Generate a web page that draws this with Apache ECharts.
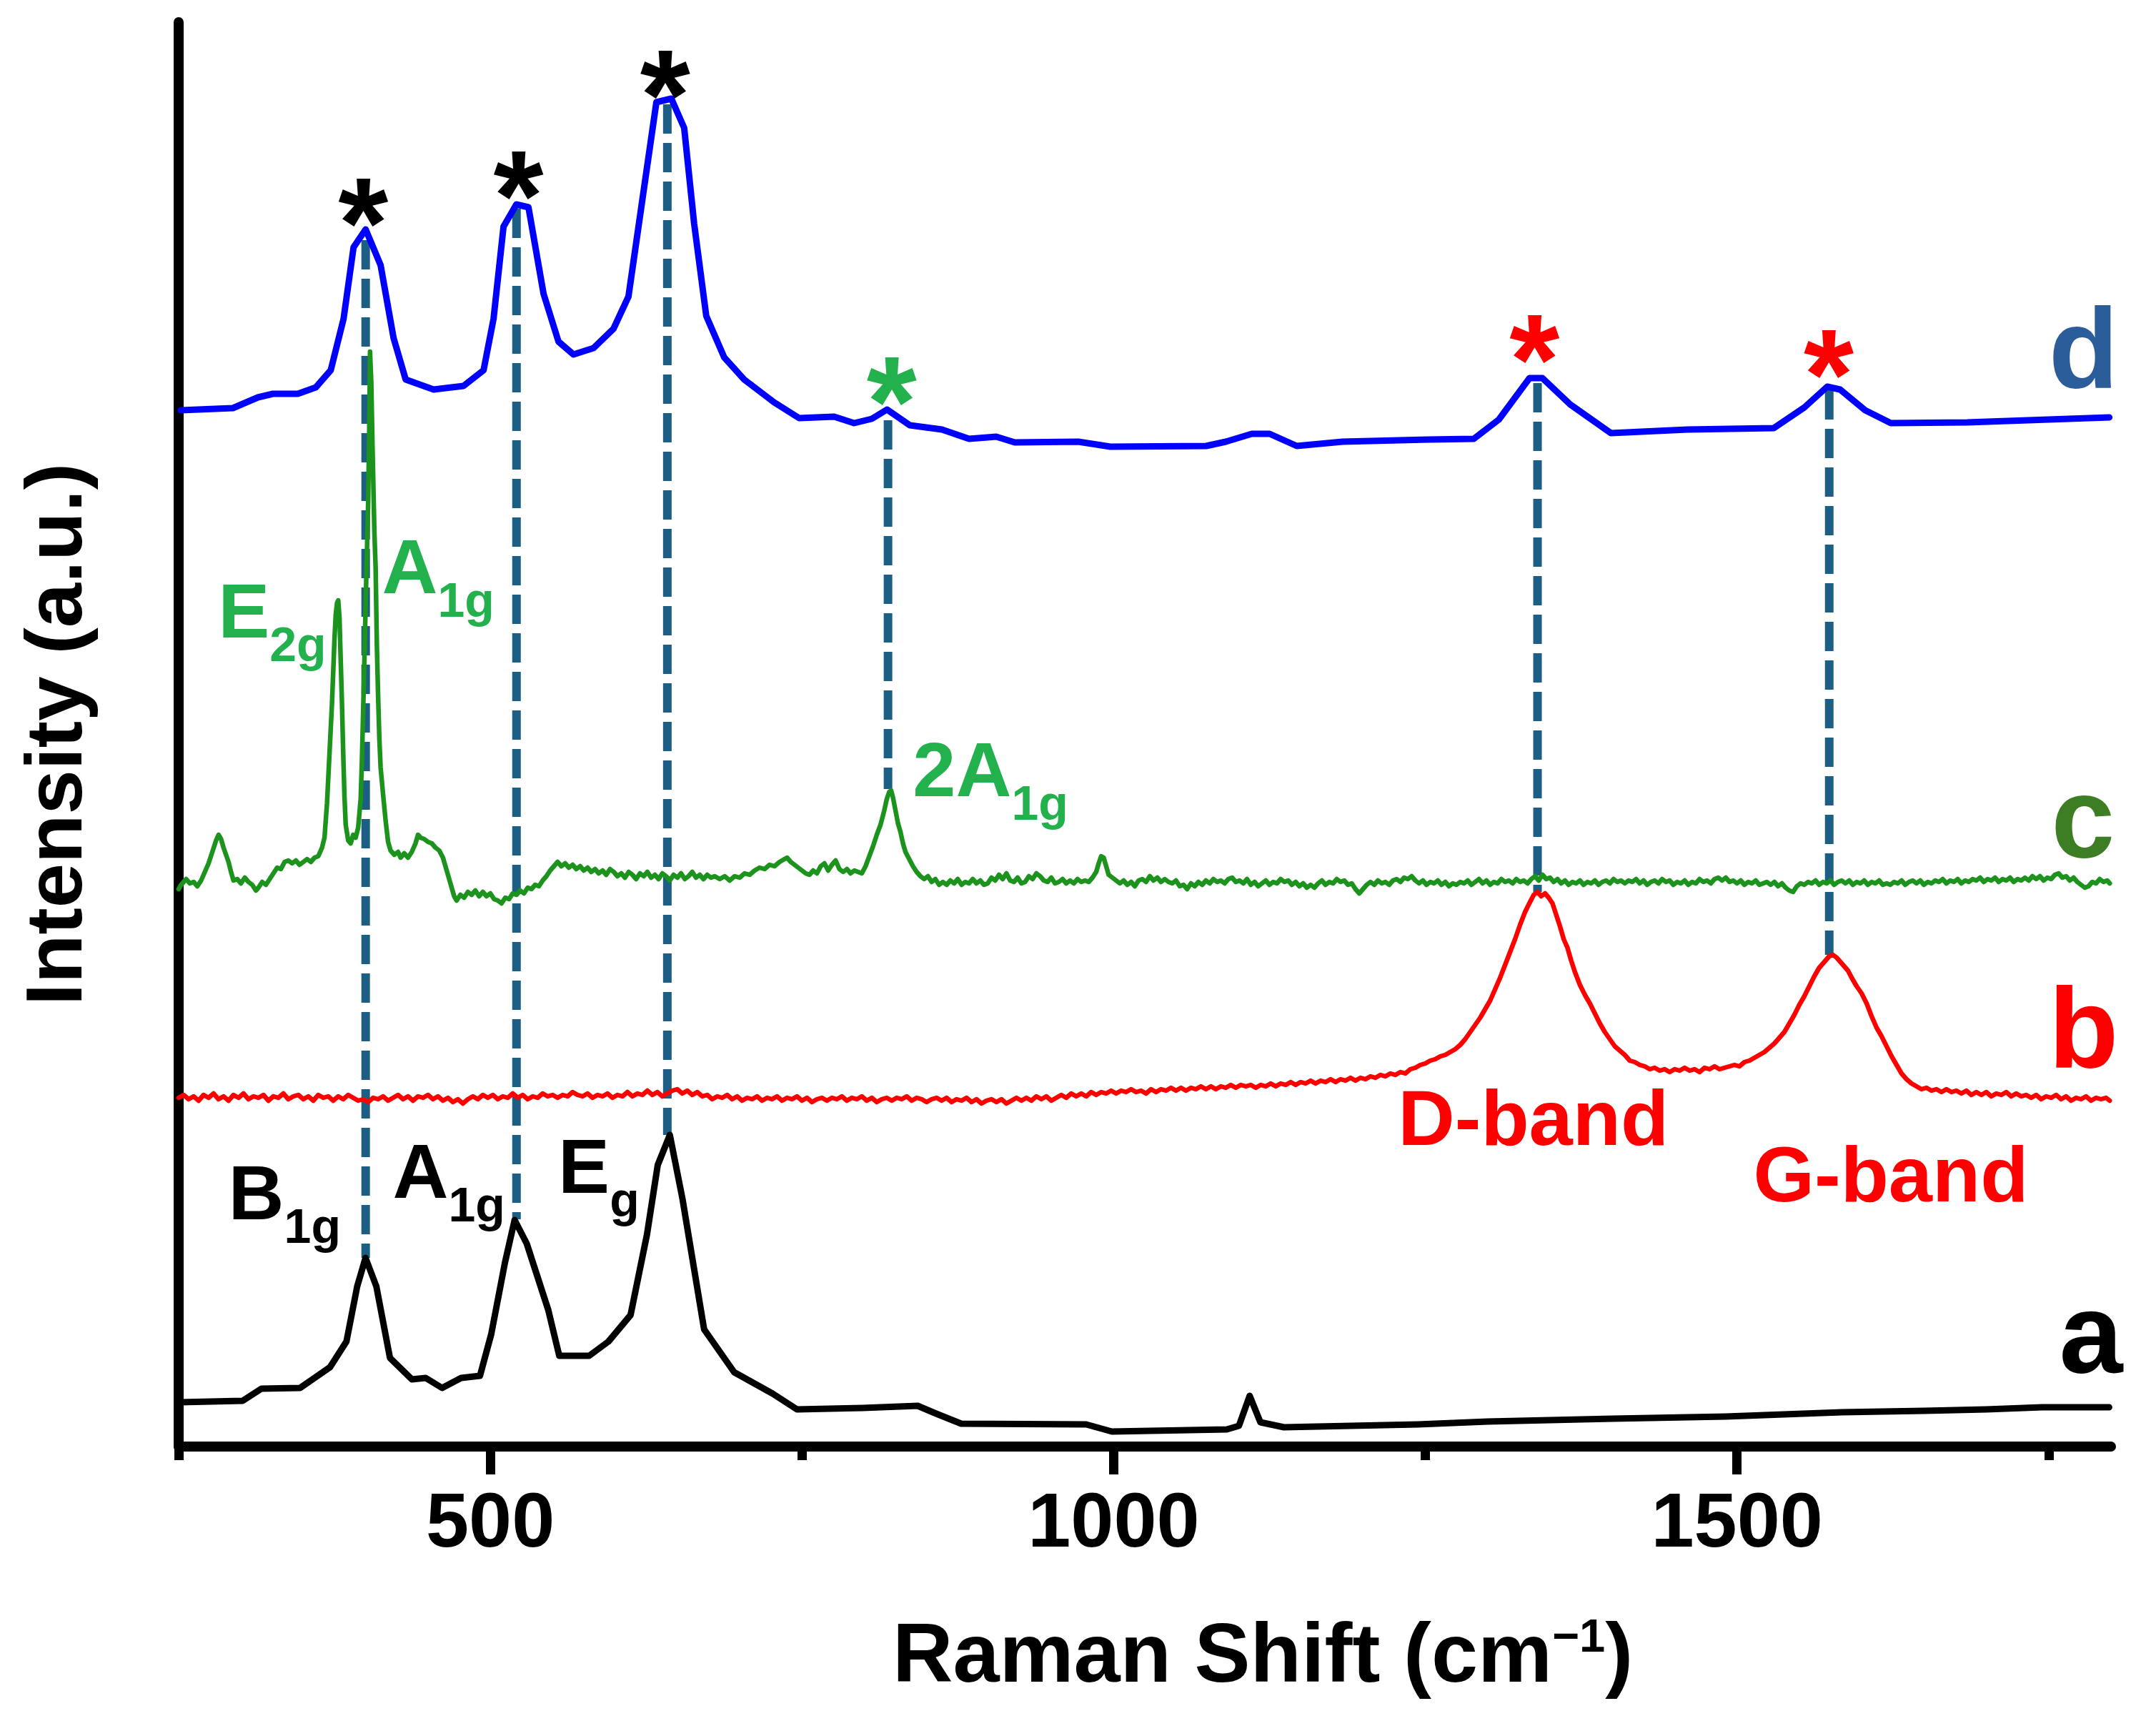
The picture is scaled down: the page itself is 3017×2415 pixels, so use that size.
<!DOCTYPE html>
<html><head><meta charset="utf-8">
<script src="https://cdn.jsdelivr.net/npm/echarts@6/dist/echarts.min.js"></script>
<style>html,body{margin:0;padding:0;background:#fff}#c{width:3017px;height:2415px}</style>
</head><body><div id="c"></div>
<script>
// ---------------- data (Raman shift in cm^-1, intensity in a.u., traces offset) ----------------
const xMajorTicks = [500, 1000, 1500];
const xMinorTicks = [250, 750, 1250, 1750];

// a : black
const traceA = [[251,3.1],[301.3,3.2],[316.4,4.05],[347.4,4.1],[371.4,5.55],[384.6,7.35],[393.2,11.2],[399.9,13.2],[408.6,11.2],[419.5,6.2],[437.1,4.7],[448.2,4.8],[461.3,4.1],[476.6,4.8],[491.7,4.95],[500.7,7.85],[511.7,12.85],[519.5,15.85],[529.2,14.2],[546.5,9.55],[555.3,6.35],[579.3,6.35],[594.8,7.35],[612.5,9.2],[625.7,14.85],[634.3,19.7],[644,21.8],[654.1,17.35],[671.5,8.2],[695.6,5.2],[726.5,3.7],[746,2.6],[798.7,2.7],[842.8,2.85],[857.7,2.3],[877.7,1.6],[978,1.55],[998.6,1.05],[1090.8,1.2],[1100.5,1.45],[1109.1,3.55],[1117.7,1.7],[1136.6,1.35],[1244.3,1.55],[1300,1.75],[1400,1.95],[1491,2.1],[1584,2.4],[1650,2.5],[1700,2.6],[1745,2.75],[1798.5,2.75]];

// b : red
const traceB = [[250,24.4],[254,24.6],[258,24.3],[262,24.5],[266,24.2],[270,24.6],[274,24.4],[278,24.7],[282,24.3],[286,24.5],[290,24.2],[294,24.6],[298,24.4],[302,24.7],[306,24.3],[310,24.5],[314,24.4],[318,24.6],[322,24.2],[326,24.5],[330,24.4],[334,24.7],[338,24.3],[342,24.5],[346,24.6],[350,24.3],[354,24.5],[358,24.2],[362,24.6],[366,24.4],[370,24.5],[374,24.2],[378,24.5],[382,24.3],[386,24.6],[390,24.4],[394,24.2],[398,24.3],[402,24.1],[406,24.4],[410,24.3],[414,24.5],[418,24.2],[422,24.4],[426,24.6],[430,24.3],[434,24.5],[438,24.2],[442,24.5],[446,24.4],[450,24.6],[454,24.3],[458,24.5],[462,24.2],[466,24.4],[470,24.1],[474,24.3],[478,24.0],[482,24.3],[486,24.5],[490,24.3],[494,24.6],[498,24.4],[502,24.6],[506,24.3],[510,24.5],[514,24.4],[518,24.7],[522,24.4],[526,24.6],[530,24.3],[534,24.5],[538,24.4],[542,24.7],[546,24.5],[550,24.6],[554,24.4],[558,24.6],[562,24.5],[566,24.8],[570,24.6],[574,24.5],[578,24.7],[582,24.4],[586,24.6],[590,24.5],[594,24.7],[598,24.4],[602,24.6],[606,24.5],[610,24.8],[614,24.5],[618,24.7],[622,24.6],[626,24.9],[630,24.6],[634,24.8],[638,24.5],[642,24.7],[646,24.9],[650,25.0],[654,24.7],[658,24.9],[662,24.6],[666,24.8],[670,24.5],[674,24.6],[678,24.3],[682,24.5],[686,24.4],[690,24.6],[694,24.3],[698,24.5],[702,24.2],[706,24.4],[710,24.3],[714,24.5],[718,24.2],[722,24.4],[726,24.3],[730,24.5],[734,24.2],[738,24.4],[742,24.3],[746,24.5],[750,24.2],[754,24.4],[758,24.1],[762,24.3],[766,24.4],[770,24.2],[774,24.4],[778,24.3],[782,24.5],[786,24.2],[790,24.4],[794,24.3],[798,24.5],[802,24.2],[806,24.4],[810,24.1],[814,24.3],[818,24.4],[822,24.2],[826,24.4],[830,24.3],[834,24.5],[838,24.2],[842,24.4],[846,24.3],[850,24.1],[854,24.3],[858,24.4],[862,24.2],[866,24.4],[870,24.1],[874,24.3],[878,24.2],[882,24.4],[886,24.1],[890,24.3],[894,24.0],[898,24.2],[902,24.3],[906,24.1],[910,24.3],[914,24.0],[918,24.2],[922,24.4],[926,24.2],[930,24.4],[934,24.2],[938,24.5],[942,24.3],[946,24.5],[950,24.2],[954,24.4],[958,24.6],[962,24.4],[966,24.7],[970,24.5],[974,24.7],[978,24.5],[982,24.8],[986,24.6],[990,24.8],[994,24.7],[998,24.9],[1002,24.7],[1006,24.9],[1010,24.8],[1014,25.0],[1018,24.8],[1022,24.9],[1026,24.7],[1030,25.0],[1034,24.8],[1038,25.0],[1042,24.9],[1046,25.1],[1050,24.9],[1054,25.1],[1058,24.9],[1062,25.1],[1066,25.0],[1070,25.2],[1074,25.0],[1078,25.2],[1082,25.0],[1086,25.2],[1090,25.1],[1094,25.3],[1098,25.1],[1102,25.3],[1106,25.2],[1110,25.3],[1114,25.1],[1118,25.3],[1122,25.2],[1126,25.4],[1130,25.2],[1134,25.4],[1138,25.3],[1142,25.5],[1146,25.3],[1150,25.5],[1154,25.4],[1158,25.6],[1162,25.4],[1166,25.6],[1170,25.5],[1174,25.7],[1178,25.5],[1182,25.7],[1186,25.6],[1190,25.8],[1194,25.6],[1198,25.8],[1202,25.7],[1206,25.9],[1210,25.8],[1214,26.0],[1218,25.9],[1222,26.1],[1226,26.0],[1230,26.2],[1234,26.1],[1238,26.4],[1242,26.5],[1246,26.7],[1250,26.8],[1254,27.0],[1258,27.1],[1262,27.3],[1266,27.4],[1270,27.6],[1274,27.8],[1278,28.1],[1282,28.5],[1286,29.0],[1290,29.5],[1294,30.0],[1298,30.6],[1302,31.2],[1306,32.0],[1310,32.8],[1314,33.7],[1318,34.6],[1322,35.5],[1326,36.5],[1330,37.4],[1334,38.1],[1337,38.6],[1340,38.8],[1343,38.5],[1346,38.7],[1349,38.4],[1352,38.0],[1355,37.2],[1358,36.4],[1361,35.5],[1364,34.9],[1367,34.0],[1370,33.2],[1374,32.3],[1378,31.6],[1382,31.0],[1386,30.3],[1390,29.6],[1394,29.0],[1398,28.5],[1402,28.0],[1406,27.7],[1410,27.4],[1414,27.0],[1418,26.9],[1422,26.7],[1426,26.6],[1430,26.4],[1434,26.5],[1438,26.3],[1442,26.4],[1446,26.2],[1450,26.4],[1454,26.3],[1458,26.5],[1462,26.3],[1466,26.4],[1470,26.2],[1474,26.5],[1478,26.4],[1482,26.6],[1486,26.4],[1490,26.5],[1494,26.6],[1498,26.7],[1502,26.6],[1506,26.9],[1510,27.0],[1514,27.2],[1518,27.4],[1522,27.6],[1526,27.9],[1530,28.2],[1534,28.6],[1538,29.0],[1542,29.6],[1546,30.2],[1550,30.9],[1554,31.5],[1558,32.2],[1562,32.9],[1566,33.5],[1570,33.9],[1574,34.3],[1577,34.4],[1580,34.2],[1583,33.9],[1586,33.6],[1589,33.3],[1592,32.8],[1596,32.2],[1600,31.7],[1604,31.0],[1608,30.1],[1612,29.3],[1616,28.7],[1620,28.0],[1624,27.3],[1628,26.7],[1632,26.1],[1636,25.7],[1640,25.4],[1644,25.2],[1648,25.0],[1652,25.1],[1656,24.9],[1660,25.0],[1664,24.8],[1668,25.0],[1672,24.8],[1676,24.9],[1680,24.7],[1684,24.9],[1688,24.6],[1692,24.8],[1696,24.6],[1700,24.8],[1704,24.5],[1708,24.7],[1712,24.6],[1716,24.8],[1720,24.5],[1724,24.7],[1728,24.5],[1732,24.6],[1736,24.4],[1740,24.6],[1744,24.3],[1748,24.5],[1752,24.4],[1756,24.6],[1760,24.3],[1764,24.5],[1768,24.2],[1772,24.4],[1776,24.3],[1780,24.5],[1784,24.2],[1788,24.4],[1792,24.3],[1796,24.4],[1799,24.2]];

// c : green
const traceC = [[250,39.0],[252,39.3],[256,39.7],[259,39.4],[262,39.5],[265,39.2],[268,39.6],[271,40.2],[274,40.8],[277,41.6],[280,42.4],[282,42.8],[284,42.5],[286,41.9],[288,41.4],[290,40.9],[292,40.2],[294,39.6],[297,39.7],[300,39.4],[303,39.8],[306,39.5],[309,39.3],[312,38.9],[314,39.1],[317,39.5],[320,39.3],[323,39.7],[326,40.1],[329,40.5],[332,40.4],[335,40.9],[338,41.0],[341,40.8],[344,41.0],[347,40.7],[350,40.9],[353,41.1],[356,40.9],[359,41.2],[362,41.3],[365,41.9],[367,42.6],[369,45.0],[371,48.5],[373,52.0],[375,56.5],[376,58.2],[377,59.0],[378,59.2],[379,58.0],[380,55.0],[381,52.0],[382,48.5],[383,45.5],[384,43.5],[386,42.4],[388,42.2],[390,42.8],[392,42.6],[394,43.3],[396,45.3],[397,48],[398,51.5],[399,55],[400,59],[401,62.5],[402,66],[403,72],[403.5,76.6],[404.5,74.5],[405.5,70],[407,64],[408,61.5],[409,56],[410,52.5],[411,49.5],[412,47.5],[414,45.6],[416,43.8],[418,42.3],[420,41.7],[423,41.4],[426,41.6],[428,41.2],[431,41.5],[434,41.2],[437,41.6],[440,42.2],[442,42.8],[444,42.6],[447,42.5],[450,42.3],[453,42.2],[456,41.9],[459,41.7],[462,41.2],[465,40.3],[468,39.4],[471,38.5],[473,38.2],[476,38.6],[479,38.4],[482,38.8],[485,38.6],[488,38.9],[491,38.5],[494,38.8],[497,38.5],[500,38.7],[503,38.3],[506,38.2],[509,38.0],[512,38.4],[515,38.3],[518,38.7],[521,38.6],[524,38.9],[527,38.7],[530,39.1],[533,39.0],[536,39.3],[539,39.2],[542,39.6],[545,39.9],[548,40.3],[551,40.6],[554,40.9],[557,40.6],[560,40.8],[563,40.5],[566,40.7],[569,40.4],[572,40.6],[575,40.3],[578,40.5],[581,40.2],[584,40.4],[587,40.1],[590,40.3],[593,40.0],[596,40.4],[599,40.2],[602,39.9],[605,40.1],[608,39.8],[611,40.2],[614,40.0],[617,39.7],[620,40.1],[623,39.9],[626,40.2],[629,39.8],[632,40.0],[635,39.7],[638,40.1],[641,39.9],[644,39.6],[647,40.0],[650,39.8],[653,40.1],[656,39.7],[659,39.9],[662,40.2],[665,39.8],[668,40.0],[671,39.7],[674,40.0],[677,39.8],[680,39.9],[684,39.7],[688,39.9],[692,39.6],[696,39.9],[700,39.8],[704,40.1],[708,40.0],[712,40.3],[716,40.5],[720,40.4],[724,40.7],[728,40.6],[732,40.9],[736,41.1],[738,41.2],[741,40.9],[744,40.7],[747,40.5],[750,40.3],[753,40.1],[756,40.0],[759,40.3],[762,40.1],[765,40.6],[768,40.8],[771,40.3],[774,40.7],[777,41.0],[780,40.4],[783,40.2],[786,40.4],[789,40.1],[792,40.3],[795,40.2],[798,40.1],[801,40.6],[804,41.3],[807,42.0],[810,42.8],[813,43.5],[816,44.5],[818,45.3],[820,45.8],[821.5,45.9],[823,45.4],[825,44.5],[827,43.6],[829,43.0],[831,42.2],[833,41.6],[836,41.1],[839,40.6],[842,40.2],[845,39.9],[848,39.7],[851,39.9],[854,39.5],[857,39.7],[860,39.3],[863,39.5],[866,39.3],[869,39.6],[872,39.4],[875,39.7],[878,39.3],[881,39.5],[884,39.4],[887,39.7],[890,39.4],[893,39.6],[896,39.3],[899,39.4],[902,39.8],[905,39.6],[908,40.0],[911,39.7],[914,40.1],[917,39.6],[920,39.5],[923,39.8],[926,39.4],[929,39.5],[932,39.9],[935,39.7],[938,40.1],[941,39.9],[944,39.6],[947,39.5],[950,39.8],[953,39.4],[956,39.5],[959,39.7],[962,39.4],[965,39.6],[968,39.4],[971,39.7],[974,39.5],[977,39.6],[980,39.5],[983,39.8],[986,40.2],[988,40.8],[990,41.3],[992,41.2],[994,40.6],[996,40.0],[999,39.8],[1002,39.6],[1005,39.4],[1008,39.6],[1011,39.3],[1014,39.5],[1017,39.2],[1020,39.6],[1023,39.7],[1026,39.5],[1029,39.9],[1032,39.6],[1035,39.8],[1038,39.5],[1041,39.7],[1044,39.5],[1047,39.4],[1050,39.6],[1053,39.2],[1056,39.3],[1059,39.0],[1062,39.4],[1065,39.2],[1068,39.5],[1071,39.3],[1074,39.6],[1077,39.4],[1080,39.7],[1083,39.5],[1086,39.6],[1089,39.4],[1092,39.7],[1095,39.8],[1098,39.5],[1101,39.6],[1104,39.4],[1107,39.7],[1110,39.3],[1113,39.5],[1116,39.2],[1119,39.4],[1122,39.6],[1125,39.3],[1128,39.5],[1131,39.4],[1134,39.7],[1137,39.5],[1140,39.6],[1143,39.3],[1146,39.5],[1149,39.2],[1152,39.4],[1155,39.1],[1158,39.3],[1161,39.1],[1164,39.4],[1167,39.6],[1170,39.3],[1173,39.5],[1176,39.4],[1179,39.7],[1182,39.5],[1185,39.6],[1188,39.3],[1191,39.4],[1194,39.0],[1197,38.7],[1200,39.0],[1203,39.3],[1206,39.5],[1209,39.3],[1212,39.6],[1215,39.4],[1218,39.5],[1221,39.3],[1224,39.6],[1227,39.7],[1230,39.5],[1233,39.8],[1236,39.7],[1239,39.9],[1242,39.6],[1245,39.4],[1248,39.6],[1251,39.3],[1254,39.5],[1257,39.4],[1260,39.6],[1263,39.3],[1266,39.5],[1269,39.2],[1272,39.4],[1275,39.3],[1278,39.5],[1281,39.4],[1284,39.6],[1287,39.3],[1290,39.5],[1293,39.7],[1296,39.4],[1299,39.6],[1302,39.3],[1305,39.5],[1308,39.4],[1311,39.7],[1314,39.5],[1317,39.6],[1320,39.4],[1323,39.7],[1326,39.5],[1329,39.6],[1332,39.4],[1335,39.7],[1338,39.9],[1341,39.6],[1344,40.0],[1347,39.7],[1350,39.8],[1353,39.5],[1356,39.7],[1359,39.4],[1362,39.6],[1365,39.3],[1368,39.5],[1371,39.4],[1374,39.6],[1377,39.3],[1380,39.5],[1383,39.4],[1386,39.6],[1389,39.3],[1392,39.5],[1395,39.6],[1398,39.4],[1401,39.7],[1404,39.5],[1407,39.6],[1410,39.4],[1413,39.6],[1416,39.5],[1419,39.7],[1422,39.4],[1425,39.6],[1428,39.3],[1431,39.5],[1434,39.6],[1437,39.4],[1440,39.7],[1443,39.5],[1446,39.6],[1449,39.3],[1452,39.5],[1455,39.4],[1458,39.6],[1461,39.3],[1464,39.5],[1467,39.4],[1470,39.7],[1473,39.5],[1476,39.6],[1479,39.4],[1482,39.7],[1485,39.8],[1488,39.6],[1491,39.8],[1494,39.5],[1497,39.6],[1500,39.4],[1503,39.6],[1506,39.3],[1509,39.5],[1512,39.4],[1515,39.6],[1518,39.3],[1521,39.4],[1524,39.5],[1527,39.3],[1530,39.5],[1533,39.2],[1536,39.4],[1539,39.1],[1542,38.9],[1545,38.8],[1548,39.2],[1551,39.4],[1554,39.3],[1557,39.5],[1560,39.4],[1563,39.6],[1566,39.3],[1569,39.5],[1572,39.4],[1575,39.6],[1578,39.3],[1581,39.5],[1584,39.6],[1587,39.4],[1590,39.6],[1593,39.3],[1596,39.5],[1599,39.4],[1602,39.6],[1605,39.3],[1608,39.5],[1611,39.4],[1614,39.6],[1617,39.3],[1620,39.4],[1623,39.3],[1626,39.5],[1629,39.4],[1632,39.6],[1635,39.3],[1638,39.5],[1641,39.6],[1644,39.4],[1647,39.6],[1650,39.3],[1653,39.5],[1656,39.4],[1659,39.6],[1662,39.5],[1665,39.7],[1668,39.4],[1671,39.6],[1674,39.5],[1677,39.7],[1680,39.4],[1683,39.6],[1686,39.5],[1689,39.7],[1692,39.6],[1695,39.8],[1698,39.5],[1701,39.7],[1704,39.6],[1707,39.8],[1710,39.5],[1713,39.7],[1716,39.6],[1719,39.8],[1722,39.5],[1725,39.7],[1728,39.6],[1731,39.8],[1734,39.6],[1737,39.9],[1740,39.7],[1743,39.9],[1746,39.6],[1749,39.8],[1752,39.7],[1755,40.0],[1758,40.1],[1761,39.8],[1764,39.9],[1767,39.6],[1770,39.8],[1773,39.5],[1776,39.3],[1779,39.1],[1782,39.2],[1785,39.5],[1788,39.4],[1791,39.7],[1794,39.5],[1797,39.6],[1799,39.4]];

// d : blue
const traceD = [[251.7,72.5],[293.5,72.65],[313.6,73.4],[325.6,73.65],[345.6,73.65],[360,74.1],[372,75.3],[382.3,78.9],[390.3,83.9],[400,85.15],[412,82.65],[422.4,77.55],[432.1,74.65],[454.5,73.95],[478.5,74.2],[494.6,75.3],[502.6,78.9],[510.6,85.35],[520.9,86.9],[530.6,86.7],[542.7,80.65],[554.7,77.3],[566.7,76.4],[582.8,76.85],[598.8,78.2],[610.8,80.45],[622.9,87.8],[633.2,94.05],[645.2,94.3],[655.5,92.25],[663.5,85.55],[673.2,79.1],[687.6,76.2],[703.6,74.65],[727.7,73.05],[747.7,71.95],[775.8,72.05],[791.8,71.6],[806,71.9],[818.2,72.55],[836.5,71.45],[862.3,71.15],[884,70.5],[905.8,70.65],[920.7,70.25],[971.6,70.3],[997.4,69.95],[1074.2,70],[1090,70.3],[1110.8,70.85],[1125.1,70.85],[1146.9,70],[1183.6,70.3],[1252.3,70.45],[1288.9,70.5],[1309,71.85],[1333.6,74.75],[1343.9,74.75],[1366.3,72.9],[1398.9,70.9],[1460.2,71.15],[1529.5,71.25],[1554.1,72.7],[1572.4,74.15],[1582.7,73.95],[1602.8,72.5],[1623.4,71.6],[1684.7,71.65],[1798.7,72]];

// dashed guide lines (peak positions)
const guideX = [400, 521, 642, 819, 1340, 1574];
const guideTop = [84.4, 86.6, 93.9, 71.8, 74.4, 73.9];
const guideBottom = [13.2, 15.9, 21.8, 46.0, 38.8, 34.4];

// asterisk markers
const starBlackX = [398, 522.6, 640.3];
const starBlackY = [86.8, 88.7, 95.75];
const starGreenX = [822];
const starGreenY = [74.3];
const starRedX = [1337.6, 1573.6];
const starRedY = [77.25, 76.2];

// mode labels: [main, subscript]
const greenModes = [['E', '2g'], ['A', '1g'], ['2A', '1g']];
const greenModeX = [325, 458.2, 901.2];
const greenModeY = [58.1, 61.2, 46.98];
const blackModes = [['B', '1g'], ['A', '1g'], ['E', 'g']];
const blackModeX = [335, 466.8, 587];
const blackModeY = [17.4, 18.9, 19.25];
const bandNames = ['D-band', 'G-band'];
const bandX = [1336.7, 1623.4];
const bandY = [22.6, 18.65];
const traceLetters = ['d', 'c', 'b', 'a'];
const letterX = [1778, 1777.5, 1778, 1784];
const letterY = [76.25, 43.45, 28.7, 7.4];

// ---------------- chart ----------------
const FONT = "'Liberation Sans', Arial, Helvetica, sans-serif";
const chart = echarts.init(document.getElementById('c'), null, {renderer: 'canvas'});

function lineSeries(data, color, width) {
  return {type: 'line', data, symbol: 'none', showSymbol: false, smooth: false, silent: true,
    lineStyle: {color, width, join: 'round', cap: 'round'}, z: 3};
}
function textSeries(xs, ys, texts, color, size, offY, rich) {
  return {type: 'scatter', silent: true, symbolSize: 1, itemStyle: {color: 'rgba(255,255,255,0)', opacity: 1}, z: 10,
    data: xs.map((x, i) => ({value: [x, ys[i]], label: {formatter: texts[i]}})),
    label: {show: true, position: 'inside', color, opacity: 1, fontFamily: FONT, fontWeight: 'bold', fontSize: size,
      lineHeight: size, offset: [0, offY], textBorderWidth: 0, rich: rich || {}}};
}
function modeRich(color) {
  return {
    m: {fontSize: 108, lineHeight: 156, fontFamily: FONT, fontWeight: 'bold', color, opacity: 1},
    s: {fontSize: 68, lineHeight: 70, verticalAlign: 'bottom', fontFamily: FONT, fontWeight: 'bold', color, opacity: 1}
  };
}
const modeText = arr => arr.map(p => '{m|' + p[0] + '}{s|' + p[1] + '}');

const series = [];
guideX.forEach((x, i) => {
  series.push({type: 'line', data: [[x, guideTop[i]], [x, guideBottom[i]]], symbol: 'none', silent: true, z: 2,
    lineStyle: {color: '#1d5e84', width: 12, type: [41, 13], cap: 'butt'}});
});
series.push(lineSeries(traceB, '#ff0000', 6.5));
series.push(lineSeries(traceC, '#1c931c', 6.5));
series.push(lineSeries(traceA, '#000000', 9));
series.push(lineSeries(traceD, '#0000ff', 9));

const STAR = 180;
series.push(textSeries(starBlackX, starBlackY, starBlackX.map(() => '*'), '#000000', STAR, 0.2 * STAR));
series.push(textSeries(starGreenX, starGreenY, ['*'], '#22b14c', STAR, 0.2 * STAR));
series.push(textSeries(starRedX, starRedY, starRedX.map(() => '*'), '#ff0000', STAR, 0.2 * STAR));
series.push(textSeries(greenModeX, greenModeY, modeText(greenModes), '#22b14c', 108, 0, modeRich('#22b14c')));
series.push(textSeries(blackModeX, blackModeY, modeText(blackModes), '#000000', 108, 0, modeRich('#000000')));
series.push(textSeries(bandX, bandY, bandNames, '#ff0000', 110, 0));
const letterColors = ['#2b5d9b', '#3d7d23', '#ff0000', '#000000'];
traceLetters.forEach((t, i) => {
  series.push(textSeries([letterX[i]], [letterY[i]], [t], letterColors[i], 160, 0));
});

const option = {
  animation: false,
  backgroundColor: '#ffffff',
  grid: {left: 250, right: 63, top: 31, bottom: 391, containLabel: false},
  xAxis: [{
    type: 'value', min: 250, max: 1800, position: 'bottom',
    name: '{m|Raman Shift (cm}{sup|\u22121}{m|)}', nameLocation: 'middle', nameGap: 237,
    nameTextStyle: {padding: [0, 0, 0, 330], rich: {
      m: {fontSize: 117, lineHeight: 120, fontFamily: FONT, fontWeight: 'bold', color: '#000'},
      sup: {fontSize: 65, lineHeight: 65, verticalAlign: 'top', fontFamily: FONT, fontWeight: 'bold', color: '#000'}
    }},
    axisLine: {show: true, lineStyle: {color: '#000', width: 14}},
    axisTick: {show: true, customValues: xMajorTicks, length: 39, lineStyle: {color: '#000', width: 13}},
    axisLabel: {show: true, customValues: xMajorTicks, margin: 56, color: '#000', fontFamily: FONT,
      fontWeight: 'bold', fontSize: 108, formatter: v => String(v)},
    splitLine: {show: false}
  }, {
    type: 'value', min: 250, max: 1800, position: 'bottom', offset: 0,
    axisLine: {show: false},
    axisTick: {show: true, customValues: xMinorTicks, length: 19, lineStyle: {color: '#000', width: 13}},
    axisLabel: {show: false},
    splitLine: {show: false}
  }],
  yAxis: {
    type: 'value', min: 0, max: 99.65,
    name: 'Intensity (a.u.)', nameLocation: 'middle', nameGap: 111,
    nameTextStyle: {fontSize: 112, fontFamily: FONT, fontWeight: 'bold', color: '#000', lineHeight: 112},
    axisLine: {show: true, lineStyle: {color: '#000', width: 14}},
    axisTick: {show: false}, axisLabel: {show: false}, splitLine: {show: false}
  },
  series
};
chart.setOption(option);
</script></body></html>
